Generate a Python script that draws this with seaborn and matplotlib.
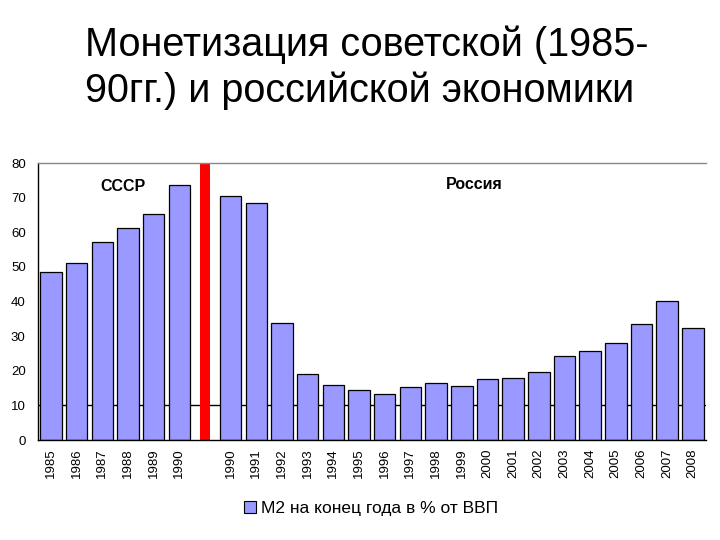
import numpy as np
import pandas as pd
import matplotlib
matplotlib.use("Agg")
import matplotlib.pyplot as plt
import seaborn as sns
from matplotlib.patches import Patch

# ---- data ----
ussr_years = ["1985", "1986", "1987", "1988", "1989", "1990"]
ussr_m2 = [48.5, 51.2, 57.1, 61.2, 65.3, 73.7]
russia_years = ["1990", "1991", "1992", "1993", "1994", "1995", "1996", "1997",
                "1998", "1999", "2000", "2001", "2002", "2003", "2004", "2005",
                "2006", "2007", "2008"]
russia_m2 = [70.6, 68.5, 33.8, 19.0, 16.0, 14.5, 13.4, 15.2, 16.6, 15.5, 17.6,
             17.8, 19.7, 24.2, 25.7, 28.0, 33.5, 40.2, 32.3]
separator_value = 80
legend_label = "M2 на конец года в % от ВВП"
title_text = "Монетизация советской (1985-\n90гг.) и российской экономики"
region_labels = ["СССР", "Россия"]

sns.set_theme(style="white")
plt.rcParams['font.family'] = ['Liberation Sans', 'DejaVu Sans']
plt.rcParams['text.color'] = 'black'
plt.rcParams['xtick.color'] = 'black'
plt.rcParams['ytick.color'] = 'black'

labels = ussr_years + [""] + russia_years
values = ussr_m2 + [separator_value] + russia_m2
kinds = ["m2"] * len(ussr_years) + ["sep"] + ["m2"] * len(russia_years)
slots = [f"s{i}" for i in range(len(labels))]
df = pd.DataFrame({"slot": slots, "value": values, "kind": kinds})

fig = plt.figure(figsize=(7.2, 5.4), dpi=100)
ax = fig.add_axes([0.053, 0.185, 0.927, 0.513])

blue = "#9999FF"
sns.barplot(data=df, x="slot", y="value", hue="kind", order=slots,
            palette={"m2": blue, "sep": "#FF0000"}, dodge=False, legend=False,
            width=0.84, edgecolor="black", linewidth=0.9, ax=ax, saturation=1)

sep_idx = len(ussr_years)
for p in ax.patches:
    if p.get_height() > 0 and abs(p.get_x() + p.get_width() / 2 - sep_idx) < 0.01:
        cx = p.get_x() + p.get_width() / 2
        p.set_width(0.42)
        p.set_x(cx - 0.21)
        p.set_edgecolor("none")

ax.set_xlim(-0.5, len(labels) - 0.5)
ax.set_ylim(0, 80)
ax.set_yticks(range(0, 81, 10))
ax.set_xticks(range(len(labels)))
ax.set_xticklabels(labels, rotation=90, fontsize=9.5)
ax.tick_params(axis="y", labelsize=9.5, length=0, pad=9)
ax.tick_params(axis="x", length=0, pad=6)
ax.set_xlabel("")
ax.set_ylabel("")

ax.axhline(10, color="black", lw=1, zorder=0.5)

for s in ["left", "bottom"]:
    ax.spines[s].set_color("black")
    ax.spines[s].set_linewidth(1)
ax.spines["right"].set_visible(False)
ax.spines["top"].set_color("#888888")
ax.spines["top"].set_linewidth(1)

ax.text(2.8, 73.1, region_labels[0], ha="center", va="center",
        fontsize=11.5, fontweight="bold")
ax.text(16.5, 73.7, region_labels[1], ha="center", va="center",
        fontsize=11.5, fontweight="bold")

fig.text(0.118, 0.952, title_text, ha="left", va="top", fontsize=28.5,
         linespacing=1.22)

fig.legend(handles=[Patch(facecolor=blue, edgecolor="black", linewidth=0.8)],
           labels=[legend_label], loc="center", bbox_to_anchor=(0.515, 0.058),
           frameon=False, fontsize=12.5, handlelength=0.7, handleheight=0.7,
           handletextpad=0.3)

fig.savefig("out.png", dpi=100)
